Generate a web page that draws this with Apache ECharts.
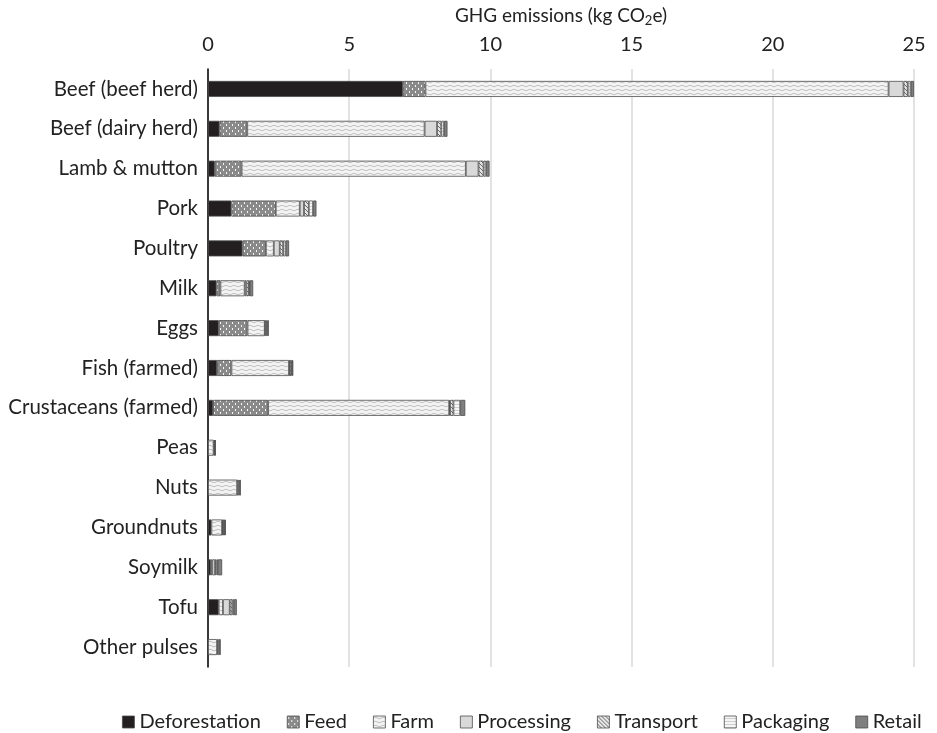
<!DOCTYPE html>
<html>
<head>
<meta charset="utf-8">
<script src="https://cdn.jsdelivr.net/npm/echarts@6/dist/echarts.min.js"></script>
<style>
  html, body { margin: 0; padding: 0; background: #fff; }
  #chart { width: 937px; height: 733px; }
</style>
</head>
<body>
<div id="chart"></div>
<script>
// Foods, top to bottom
const categories = [
  'Beef (beef herd)', 'Beef (dairy herd)', 'Lamb & mutton', 'Pork', 'Poultry',
  'Milk', 'Eggs', 'Fish (farmed)', 'Crustaceans (farmed)', 'Peas', 'Nuts',
  'Groundnuts', 'Soymilk', 'Tofu', 'Other pulses'
];

// Emissions by supply-chain stage (kg CO2e)
const deforestation = [6.9, 0.41, 0.24, 0.83, 1.22, 0.30, 0.38, 0.32, 0.18, 0, 0, 0.12, 0.10, 0.38, 0];
const feed          = [0.8, 0.98, 0.95, 1.57, 0.83, 0.14, 1.02, 0.51, 1.95, 0, 0, 0, 0, 0, 0];
const farm          = [16.4, 6.28, 7.94, 0.85, 0.28, 0.86, 0.61, 2.04, 6.41, 0.20, 1.03, 0.38, 0.05, 0.15, 0.32];
const processing    = [0.53, 0.44, 0.45, 0.15, 0.21, 0.06, 0.02, 0.02, 0.03, 0, 0, 0.02, 0.10, 0.24, 0];
const transport     = [0.15, 0.15, 0.18, 0.17, 0.12, 0.09, 0.05, 0.06, 0.12, 0.03, 0.06, 0.04, 0.05, 0.09, 0.04];
const packaging     = [0.10, 0.10, 0.09, 0.15, 0.09, 0.03, 0.03, 0.03, 0.24, 0.02, 0.03, 0.04, 0.05, 0.06, 0.06];
const retail        = [0.12, 0.12, 0.12, 0.12, 0.12, 0.12, 0.04, 0.04, 0.18, 0.02, 0.04, 0.03, 0.15, 0.10, 0.02];

const stageNames = ['Deforestation', 'Feed', 'Farm', 'Processing', 'Transport', 'Packaging', 'Retail'];
const stageData = [deforestation, feed, farm, processing, transport, packaging, retail];

// Tiled fill patterns for the monochrome stage styles
function tile(w, h, draw) {
  const c = document.createElement('canvas');
  c.width = w; c.height = h;
  const g = c.getContext('2d');
  draw(g, w, h);
  return { image: c, repeat: 'repeat' };
}

const feedFill = tile(6, 6, (g) => {
  g.fillStyle = '#8a8a8a'; g.fillRect(0, 0, 6, 6);
  g.fillStyle = '#f4f4f4';
  g.fillRect(1, 1, 1, 2);
  g.fillRect(4, 4, 1, 2);
});

const farmFill = tile(8, 4, (g) => {
  g.fillStyle = '#f4f4f4'; g.fillRect(0, 0, 8, 4);
  g.strokeStyle = '#a8a8a8'; g.lineWidth = 0.7;
  g.beginPath();
  g.moveTo(0, 2);
  g.quadraticCurveTo(2, 0.4, 4, 2);
  g.quadraticCurveTo(6, 3.6, 8, 2);
  g.stroke();
});

const transportFill = tile(4, 4, (g) => {
  g.fillStyle = '#e6e6e6'; g.fillRect(0, 0, 4, 4);
  g.strokeStyle = '#6a6a6a'; g.lineWidth = 1;
  g.beginPath();
  g.moveTo(0, 0); g.lineTo(4, 4);
  g.moveTo(-2, 2); g.lineTo(2, 6);
  g.moveTo(2, -2); g.lineTo(6, 2);
  g.stroke();
});

const packagingFill = tile(4, 3, (g) => {
  g.fillStyle = '#f6f6f6'; g.fillRect(0, 0, 4, 3);
  g.fillStyle = '#cfcfcf'; g.fillRect(0, 2, 4, 1);
});

const stageFills = ['#231f20', feedFill, farmFill, '#d9d9d9', transportFill, packagingFill, '#7f7f7f'];

const FONT = 'Lato';
const TEXT = '#222';

const series = stageNames.map((name, i) => ({
  name: name,
  type: 'bar',
  stack: 'total',
  barWidth: 16,
  data: stageData[i].map(v => (v === 0 ? null : v)),
  itemStyle: {
    color: stageFills[i],
    borderColor: '#4d4d4d',
    borderWidth: 0.8
  },
  emphasis: { disabled: true }
}));

const chart = echarts.init(document.getElementById('chart'), null, { renderer: 'canvas' });
chart.setOption({
  animation: false,
  backgroundColor: '#fff',
  textStyle: { fontFamily: FONT, color: TEXT },
  grid: { left: 208, right: 23, top: 69, bottom: 66, containLabel: false },
  xAxis: {
    type: 'value',
    position: 'top',
    min: 0,
    max: 25,
    interval: 5,
    name: '{a|GHG emissions (kg CO}{s|2}{a|e)}',
    nameLocation: 'middle',
    nameGap: 42,
    nameTextStyle: {
      rich: {
        a: { fontFamily: FONT, fontSize: 19, color: TEXT },
        s: { fontFamily: FONT, fontSize: 13, color: TEXT, padding: [9, 0, 0, 0] }
      }
    },
    axisLine: { show: false },
    axisTick: { show: false },
    axisLabel: { fontFamily: FONT, fontSize: 20, color: TEXT, margin: 14 },
    splitLine: { lineStyle: { color: '#d9d9d9', width: 1.5 } }
  },
  yAxis: {
    type: 'category',
    inverse: true,
    data: categories,
    axisLine: { lineStyle: { color: '#000', width: 1.5 } },
    axisTick: { show: false },
    axisLabel: { fontFamily: FONT, fontSize: 20.5, color: TEXT, margin: 10 },
    splitLine: { show: false }
  },
  legend: {
    data: stageNames,
    left: 117,
    top: 707,
    itemWidth: 12,
    itemHeight: 12,
    itemGap: 26,
    icon: 'rect',
    textStyle: { fontFamily: FONT, fontSize: 20, color: TEXT },
    itemStyle: { borderColor: '#4d4d4d', borderWidth: 0.8 }
  },
  series: series
});
</script>
</body>
</html>
